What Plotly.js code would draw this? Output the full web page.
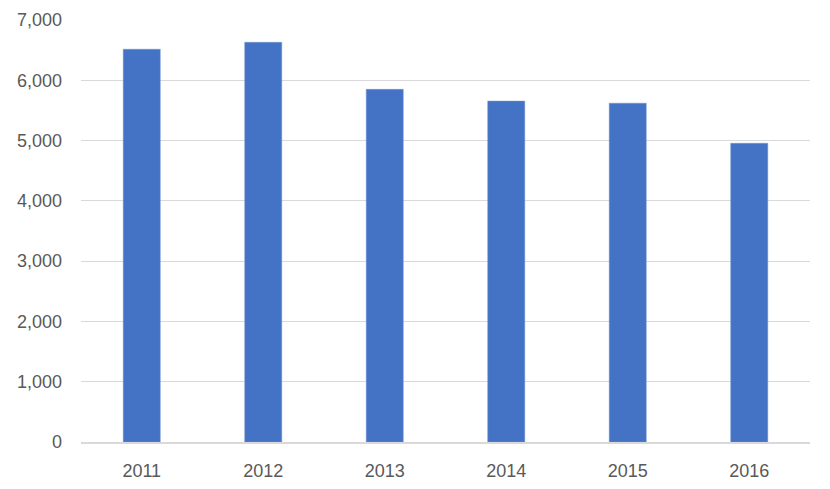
<!DOCTYPE html>
<html>
<head>
<meta charset="utf-8">
<script src="https://cdn.plot.ly/plotly-3.0.1.min.js"></script>
<style>html,body{margin:0;padding:0;background:#fff;}#chart{width:830px;height:489px;}</style>
</head>
<body>
<div id="chart"></div>
<script>
var years = ['2011', '2012', '2013', '2014', '2015', '2016'];
var values = [6515, 6630, 5850, 5655, 5620, 4955];
var yTicks = [0, 1000, 2000, 3000, 4000, 5000, 6000, 7000];
var yTickText = ['0', '1,000', '2,000', '3,000', '4,000', '5,000', '6,000', '7,000'];

var trace = {
  type: 'bar',
  x: years,
  y: values,
  marker: {color: '#4472c4', line: {color: '#6f93d4', width: 0.5}},
  hoverinfo: 'x+y'
};

var layout = {
  width: 830,
  height: 489,
  margin: {l: 81, r: 20, t: 20, b: 47},
  paper_bgcolor: '#ffffff',
  plot_bgcolor: '#ffffff',
  bargap: 0.695,
  showlegend: false,
  font: {family: 'Liberation Sans, Arial, sans-serif', size: 18, color: '#595959'},
  xaxis: {
    type: 'category',
    showgrid: false,
    showline: true,
    linecolor: '#d9d9d9',
    linewidth: 1.5,
    ticks: '',
    ticklabelstandoff: 12,
    tickfont: {size: 18, color: '#595959'}
  },
  yaxis: {
    range: [0, 7000],
    tickvals: yTicks,
    ticktext: yTickText,
    showgrid: true,
    gridcolor: '#d9d9d9',
    gridwidth: 1,
    zeroline: false,
    showline: false,
    ticks: '',
    ticklabelstandoff: 18,
    tickfont: {size: 18, color: '#595959'}
  }
};

Plotly.newPlot('chart', [trace], layout, {displayModeBar: false, staticPlot: true});
</script>
</body>
</html>
